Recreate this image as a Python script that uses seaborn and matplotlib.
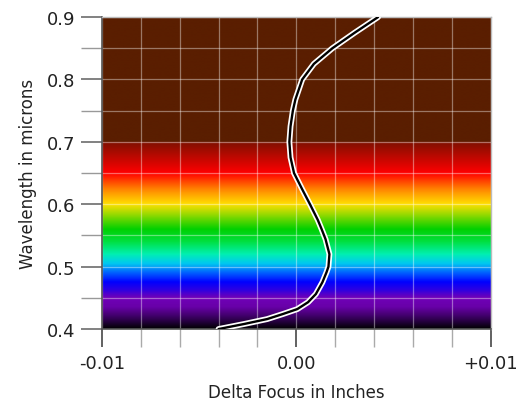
import numpy as np
import matplotlib
matplotlib.use('Agg')
import matplotlib.pyplot as plt
import matplotlib.patheffects as pe
from matplotlib.colors import LinearSegmentedColormap
import seaborn as sns

# chromatic focus shift curve
wavelength = [0.400, 0.408, 0.416, 0.424, 0.432, 0.443, 0.456, 0.475, 0.491, 0.50,
              0.52, 0.544, 0.56, 0.575, 0.60, 0.624, 0.65, 0.675, 0.70, 0.725,
              0.75, 0.768, 0.80, 0.825, 0.85, 0.875, 0.90]
focus = [-0.0040, -0.0027, -0.0015, -0.0007, 0.00005, 0.0006, 0.0010, 0.00134,
         0.00155, 0.00165, 0.0017, 0.0015, 0.0013, 0.0011, 0.0007, 0.0003,
         -0.00012, -0.0003, -0.00036, -0.0003, -0.00018, -0.00005, 0.0003,
         0.0009, 0.00185, 0.0030, 0.0042]

# spectrum background stops (wavelength, colour)
spec_wl = [0.40, 0.415, 0.435, 0.45, 0.462, 0.475, 0.49, 0.505, 0.52, 0.54, 0.56,
           0.58, 0.60, 0.625, 0.65, 0.6995, 0.7005, 0.90]
spec_col = ['#000000', '#300050', '#6800a8', '#7000b8', '#3000e0', '#0000ff',
            '#0060ff', '#00c8f0', '#00f0b0', '#00e040', '#00d000', '#80d800',
            '#ffe000', '#ff8000', '#ff0000', '#801000', '#5a1e00', '#5a1e00']

xticks = [-0.01, 0.0, 0.01]
xticklabels = ['-0.01', '0.00', '+0.01']
yticks = [0.4, 0.5, 0.6, 0.7, 0.8, 0.9]

sns.set_style('white')
plt.rcParams['font.family'] = 'sans-serif'
plt.rcParams['font.sans-serif'] = ['DejaVu Sans']

fig = plt.figure(figsize=(5.25, 4.02), dpi=100)
ax = fig.add_axes([0.194, 0.179, 0.741, 0.776])

lo, hi = spec_wl[0], spec_wl[-1]
cmap = LinearSegmentedColormap.from_list(
    'spec', [((w - lo) / (hi - lo), c) for w, c in zip(spec_wl, spec_col)], N=1024)
grad = np.linspace(0, 1, 1000).reshape(-1, 1)
ax.imshow(grad, cmap=cmap, aspect='auto', origin='lower',
          extent=[-0.01, 0.01, 0.4, 0.9], zorder=0)

sns.lineplot(x=focus, y=wavelength, orient='y', color='black', lw=1.7, ax=ax,
             zorder=3, path_effects=[pe.Stroke(linewidth=4.2, foreground='white', capstyle='round', joinstyle='round'),
                                     pe.Normal()])
ax.lines[-1].set_solid_joinstyle('round')

ax.set_xlim(-0.01, 0.01)
ax.set_ylim(0.4, 0.9)
ax.set_xticks(xticks)
ax.set_xticklabels(xticklabels)
ax.set_xticks(np.arange(-0.01, 0.0101, 0.002), minor=True)
ax.set_yticks(yticks)
ax.set_yticklabels([f'{v:.1f}' for v in yticks])
ax.set_yticks(np.arange(0.4, 0.901, 0.05), minor=True)

ax.grid(which='both', color='white', alpha=0.4, lw=0.9)
for l in ax.get_xgridlines() + ax.get_ygridlines():
    l.set_zorder(1)

ax.tick_params(axis='both', which='both', direction='out', bottom=True, left=True,
               labelsize=13, labelcolor='#222222')
ax.tick_params(axis='x', which='major', length=13, width=1.3, color='#555555', pad=5)
ax.tick_params(axis='x', which='minor', length=13, width=1.0, color='#aaaaaa')
ax.tick_params(axis='y', which='major', length=15, width=1.3, color='#777777', pad=4)
ax.tick_params(axis='y', which='minor', length=15, width=1.0, color='#999999')

for s in ['left', 'bottom']:
    ax.spines[s].set_color('#555555')
    ax.spines[s].set_linewidth(1.2)
for s in ['top', 'right']:
    ax.spines[s].set_color('#bbbbbb')
    ax.spines[s].set_linewidth(1.0)

ax.set_xlabel('Delta Focus in Inches', fontsize=12, color='#222222', labelpad=8)
ax.set_ylabel('Wavelength in microns', fontsize=12, color='#222222', labelpad=7)

fig.savefig('out.png', dpi=100)
